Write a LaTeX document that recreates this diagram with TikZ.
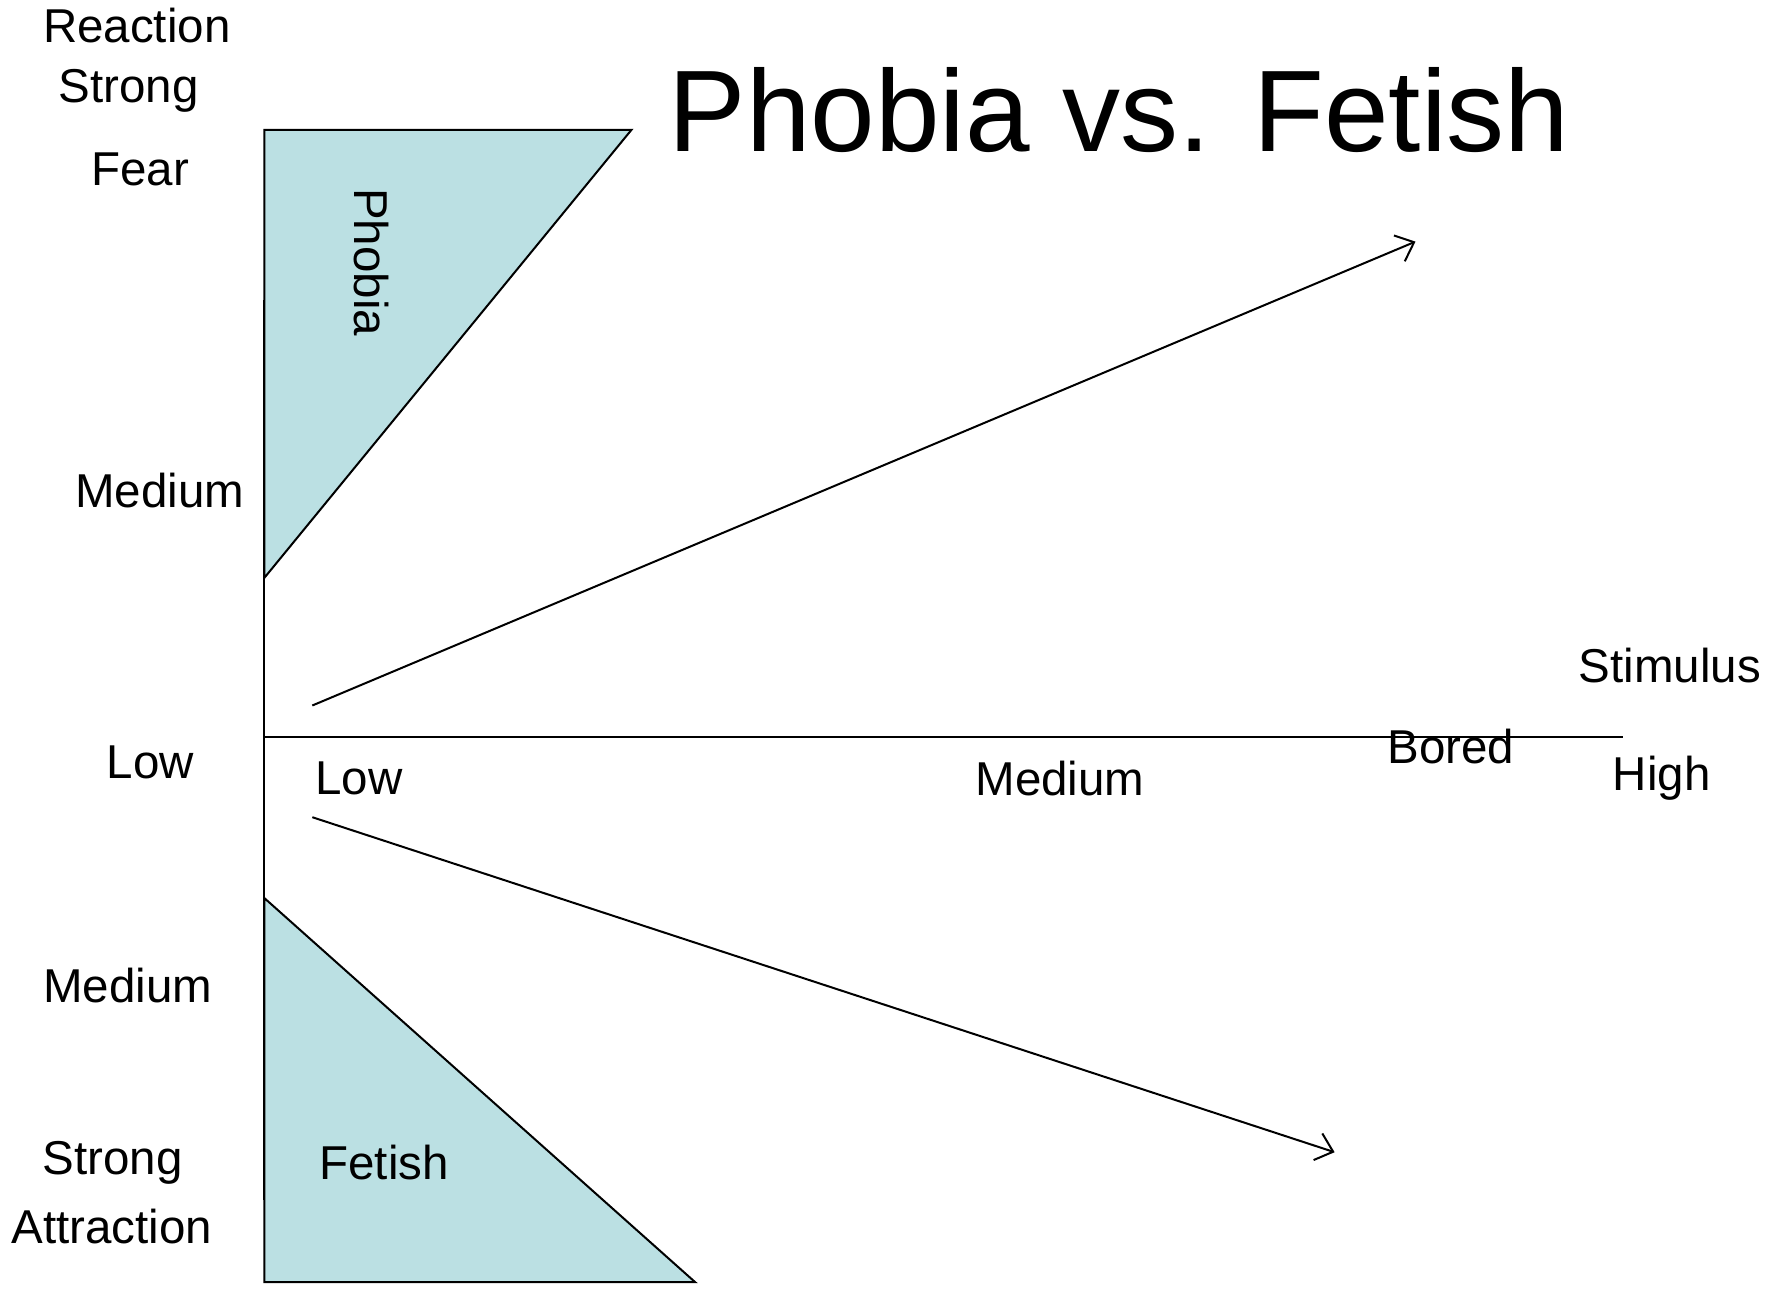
\documentclass[tikz,border=0pt]{standalone}
\usepackage{fontspec}
\setmainfont{Liberation Sans}
\usetikzlibrary{arrows.meta}
\definecolor{zonefill}{RGB}{187,224,227}
\begin{document}
\begin{tikzpicture}[x=1pt,y=-1pt,
  lbl/.style={inner sep=0pt,font=\fontsize{47.5}{57}\selectfont},
  ttl/.style={inner sep=0pt,font=\fontsize{116}{140}\selectfont},
  ln/.style={line width=2pt,black},
  arr/.style={ln,-{Straight Barb[length=16pt,width=28pt,line width=2pt]}}]
\useasboundingbox (0,0) rectangle (1787,1289);
% zones
\draw[ln,fill=zonefill] (264.4,129.9) -- (631.4,129.9) -- (264.4,577.8) -- cycle;
\draw[ln,fill=zonefill] (264.4,898.1) -- (695.2,1282.2) -- (264.4,1282.2) -- cycle;
% axes
\coordinate (vtop) at (264.4,300);
\coordinate (vbot) at (264.4,1200);
\coordinate (horig) at (264.4,737.4);
\coordinate (hend) at (1622.9,737.4);
\draw[ln] (vtop) -- (vbot);
\draw[ln] (horig) -- (hend);
% arrows
\coordinate (ua0) at (312.3,705.5);
\coordinate (ua1) at (1415.5,241.6);
\coordinate (la0) at (312.3,817.2);
\coordinate (la1) at (1334.6,1152.2);
\draw[arr] (ua0) -- (ua1);
\draw[arr] (la0) -- (la1);
% labels
\node[lbl] (reaction) at (136.8,25.1) {Reaction};
\node[lbl] (strongf) at (128.8,91.2) {Strong};
\node[lbl] (fear) at (140.2,169.8) {Fear};
\node[lbl] (medf) at (159.6,490.1) {Medium};
\node[lbl] (lowy) at (150.4,762.5) {Low};
\node[lbl] (meda) at (127.6,985.8) {Medium};
\node[lbl] (stronga) at (112.8,1162.5) {Strong};
\node[lbl] (attraction) at (111.7,1226.3) {Attraction};
\node[lbl] (lowx) at (359,778.4) {Low};
\node[lbl] (medx) at (1059.9,778.4) {Medium};
\node[lbl] (bored) at (1450.8,746.5) {Bored};
\node[lbl] (high) at (1661.7,778.4) {High};
\node[lbl] (stimulus) at (1669.7,665.6) {Stimulus};
\node[lbl,rotate=-90] (phobia) at (371.5,262.1) {Phobia};
\node[lbl] (fetish) at (384.1,1162.5) {Fetish};
\node[ttl] (title) at (1119.2,110.5) {Phobia vs. Fetish};
\end{tikzpicture}
\end{document}
